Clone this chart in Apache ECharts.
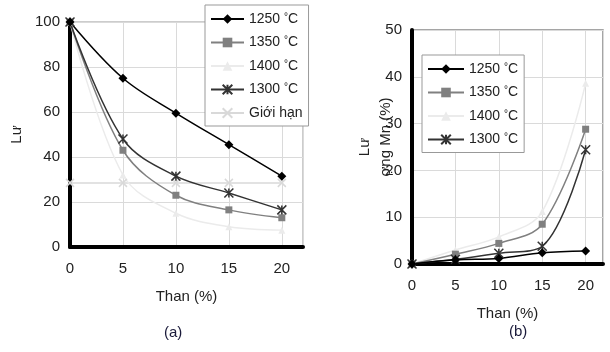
<!DOCTYPE html>
<html>
<head>
<meta charset="utf-8">
<script src="https://cdn.jsdelivr.net/npm/echarts@6/dist/echarts.min.js"></script>
<style>
  html, body { margin: 0; padding: 0; background: #fff; }
  #chart { width: 610px; height: 352px; }
</style>
</head>
<body>
<div id="chart"></div>
<script>
// x values (Than %)
const thanX = [0, 5, 10, 15, 20];

// chart (a): Lưu huỳnh còn lại
const a1250 = [100, 75, 59.5, 45.5, 31.5];
const a1350 = [100, 43, 23, 16.5, 13];
const a1400 = [100, 32, 15, 9, 7.5];
const a1300 = [100, 48, 31.5, 24, 16.5];
const aLimit = [28.5, 28.5, 28.5, 28.5, 28.5];

// chart (b): Lượng Mn (%)
const b1250 = [0, 0.9, 1.2, 2.4, 2.8];
const b1350 = [0, 2.1, 4.4, 8.5, 28.8];
const b1400 = [0, 3, 5.8, 11.2, 38.6];
const b1300 = [0, 1, 2.3, 3.8, 24.4];

const names = ["1250 °C", "1350 °C", "1400 °C", "1300 °C", "Giới hạn"];

const FONT = "Liberation Sans, Arial, sans-serif";
const STAR = "path://M0,0L10,10M10,0L0,10M5,0L5,10";
const CROSS = "path://M0,0L10,10M10,0L0,10";

function pts(vals) {
  return thanX.map((x, i) => [x, vals[i]]);
}

const styles = [
  { color: "#000000", symbol: "diamond", size: 9 },
  { color: "#808080", symbol: "rect", size: 7 },
  { color: "#ebebeb", symbol: "triangle", size: 7 },
  { color: "#333333", symbol: STAR, size: 9 },
  { color: "#d9d9d9", symbol: CROSS, size: 8 },
];

function mkSeries(idx, vals, gi) {
  const s = styles[idx];
  const stroked = s.symbol.indexOf("path://") === 0;
  return {
    name: names[idx],
    type: "line",
    xAxisIndex: gi,
    yAxisIndex: gi,
    data: pts(vals),
    smooth: 0.35,
    symbol: s.symbol,
    symbolSize: s.size,
    showAllSymbol: true,
    lineStyle: { color: s.color, width: 1.5 },
    itemStyle: stroked
      ? { color: s.color, borderColor: s.color, borderWidth: 1.5 }
      : { color: s.color },
  };
}

function xAxisCfg(gi) {
  return {
    gridIndex: gi,
    type: "value",
    min: 0,
    max: 22,
    interval: 5,
    name: "Than (%)",
    nameLocation: "middle",
    nameGap: 42,
    nameTextStyle: { fontFamily: FONT, fontSize: 15, color: "#222" },
    axisLine: { show: true, onZero: false, lineStyle: { color: "#000", width: 4 } },
    axisTick: { show: false },
    axisLabel: {
      fontFamily: FONT, fontSize: 15, color: "#222", margin: 14,
      formatter: (v) => (v % 5 === 0 ? String(v) : ""),
    },
    splitLine: { show: true, lineStyle: { color: "#dadada", width: 1 } },
  };
}

function yAxisCfg(gi, max, interval, name, gap) {
  return {
    gridIndex: gi,
    type: "value",
    min: 0,
    max: max,
    interval: interval,
    name: name,
    nameLocation: "middle",
    nameGap: gap,
    nameTextStyle: { fontFamily: FONT, fontSize: 15, color: "#222" },
    axisLine: { show: true, lineStyle: { color: "#000", width: 4 } },
    axisTick: { show: false },
    axisLabel: { fontFamily: FONT, fontSize: 15, color: "#222", margin: 10 },
    splitLine: { show: true, lineStyle: { color: "#dadada", width: 1 } },
  };
}

function legendCfg(left, top, data, itemWidth) {
  return {
    orient: "vertical",
    left: left,
    top: top,
    data: data,
    itemWidth: itemWidth,
    itemHeight: 12,
    itemGap: 9.5,
    padding: [7, 6, 6, 5],
    backgroundColor: "#fff",
    borderColor: "#999",
    borderWidth: 1,
    selectedMode: false,
    formatter: (n) => n.replace(" °C", " {s|°}C"),
    textStyle: {
      fontFamily: FONT, fontSize: 14, color: "#222",
      rich: { s: { fontFamily: FONT, fontSize: 10, color: "#222", verticalAlign: "top", padding: [0, 0, 4, 0] } },
    },
    z: 10,
  };
}

const chart = echarts.init(document.getElementById("chart"));

const option = {
  animation: false,
  backgroundColor: "#fff",
  grid: [
    { left: 70, right: 307, top: 22, bottom: 105, show: true, borderColor: "#999", borderWidth: 1 },
    { left: 412, right: 7, top: 30, bottom: 88, show: true, borderColor: "#888", borderWidth: 1.5 },
  ],
  xAxis: [xAxisCfg(0), xAxisCfg(1)],
  yAxis: [yAxisCfg(0, 100, 20, "Lư", 46), yAxisCfg(1, 50, 10, "Lư", 40)],
  legend: [
    legendCfg(205, 5, names, 33),
    legendCfg(422, 55, names.slice(0, 4), 36),
  ],
  graphic: [
    {
      type: "text",
      x: 386,
      y: 137,
      rotation: Math.PI / 2,
      style: {
        text: "ợng Mn (%)",
        font: "15px " + FONT,
        fill: "#222",
        align: "center",
        verticalAlign: "middle",
      },
    },
    {
      type: "text",
      left: 164,
      top: 325,
      style: { text: "(a)", font: "15px " + FONT, fill: "#1a1a3a" },
    },
    {
      type: "text",
      left: 509,
      top: 324,
      style: { text: "(b)", font: "15px " + FONT, fill: "#1a1a3a" },
    },
  ],
  series: [
    mkSeries(4, aLimit, 0),
    mkSeries(2, a1400, 0),
    mkSeries(1, a1350, 0),
    mkSeries(3, a1300, 0),
    mkSeries(0, a1250, 0),
    mkSeries(2, b1400, 1),
    mkSeries(1, b1350, 1),
    mkSeries(3, b1300, 1),
    mkSeries(0, b1250, 1),
  ],
};

chart.setOption(option);
</script>
</body>
</html>
